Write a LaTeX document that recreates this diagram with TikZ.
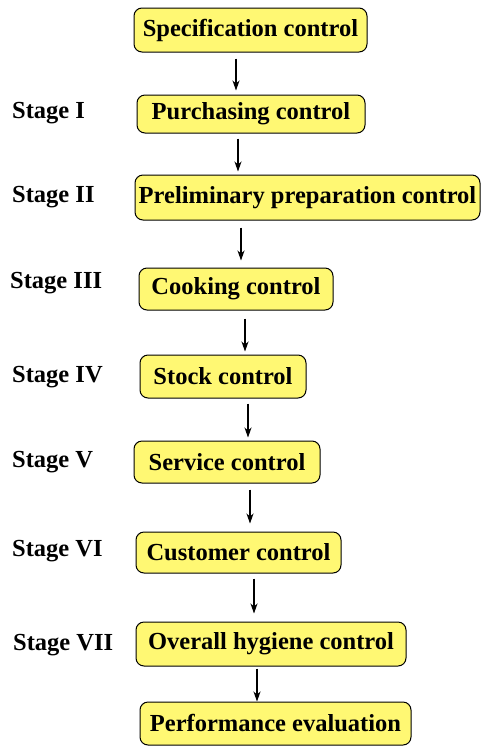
\documentclass[tikz,border=0pt]{standalone}
\usepackage{fontspec}
\setmainfont{Liberation Serif}
\usetikzlibrary{positioning,arrows.meta,calc}

\begin{document}
\begin{tikzpicture}[x=1pt, y=-1pt,
		font=\bfseries\fontsize{24.5}{28}\selectfont,
		box/.style={draw, rounded corners=8pt, fill=yellow!55, line width=1pt,
				inner sep=0pt, align=center},
		stage/.style={anchor=west, inner sep=0pt},
		arr/.style={-{Stealth[length=10pt,width=7pt,inset=3pt]}, line width=1.1pt}
		]
		\useasboundingbox (0,0) rectangle (482,748);
		\node[box, minimum width=233pt, minimum height=44pt] (spec) at (250.5,30)
		{Specification control};
		\node[box, minimum width=228pt, minimum height=38pt] (purch) at (251,114)
		{Purchasing control};
		\node[box, minimum width=345pt, minimum height=45pt] (prep) at (307.5,197.5)
		{Preliminary preparation control};
		\node[box, minimum width=194pt, minimum height=42pt] (cook) at (236,289)
		{Cooking control};
		\node[box, minimum width=166pt, minimum height=43pt] (stock) at (223,376.5)
		{Stock control};
		\node[box, minimum width=186pt, minimum height=42pt] (serv) at (227,462)
		{Service control};
		\node[box, minimum width=205pt, minimum height=41pt] (cust) at (238.5,552.5)
		{Customer control};
		\node[box, minimum width=270pt, minimum height=44pt] (hyg) at (271,644)
		{Overall hygiene control};
		\node[box, minimum width=271pt, minimum height=43pt] (perf) at (275.5,723.5)
		{Performance evaluation};
		\node[stage] (st1) at (12,113) {Stage I};
		\node[stage] (st2) at (12,197) {Stage II};
		\node[stage] (st3) at (10,283) {Stage III};
		\node[stage] (st4) at (12,377) {Stage IV};
		\node[stage] (st5) at (12,462) {Stage V};
		\node[stage] (st6) at (12,551) {Stage VI};
		\node[stage] (st7) at (13,645) {Stage VII};
		\draw[arr] ($(spec.south)+(-14.5pt,-6pt)$) -- ($(spec.south |- purch.north)+(-14.5pt,4pt)$);
		\draw[arr] ($(purch.south)+(-13pt,-5pt)$) -- ($(purch.south |- prep.north)+(-13pt,3pt)$);
		\draw[arr] ($(prep.south)+(-66.5pt,-7pt)$) -- ($(prep.south |- cook.north)+(-66.5pt,7pt)$);
		\draw[arr] ($(cook.south)+(9pt,-8pt)$) -- ($(cook.south |- stock.north)+(9pt,3pt)$);
		\draw[arr] ($(stock.south)+(25pt,-5pt)$) -- ($(stock.south |- serv.north)+(25pt,3pt)$);
		\draw[arr] ($(serv.south)+(23pt,-6pt)$) -- ($(serv.south |- cust.north)+(23pt,8pt)$);
		\draw[arr] ($(cust.south)+(15.5pt,-5pt)$) -- ($(cust.south |- hyg.north)+(15.5pt,8pt)$);
		\draw[arr] ($(hyg.south)+(-14pt,-2pt)$) -- ($(hyg.south |- perf.north)+(-14pt,0pt)$);
\end{tikzpicture}
\end{document}
